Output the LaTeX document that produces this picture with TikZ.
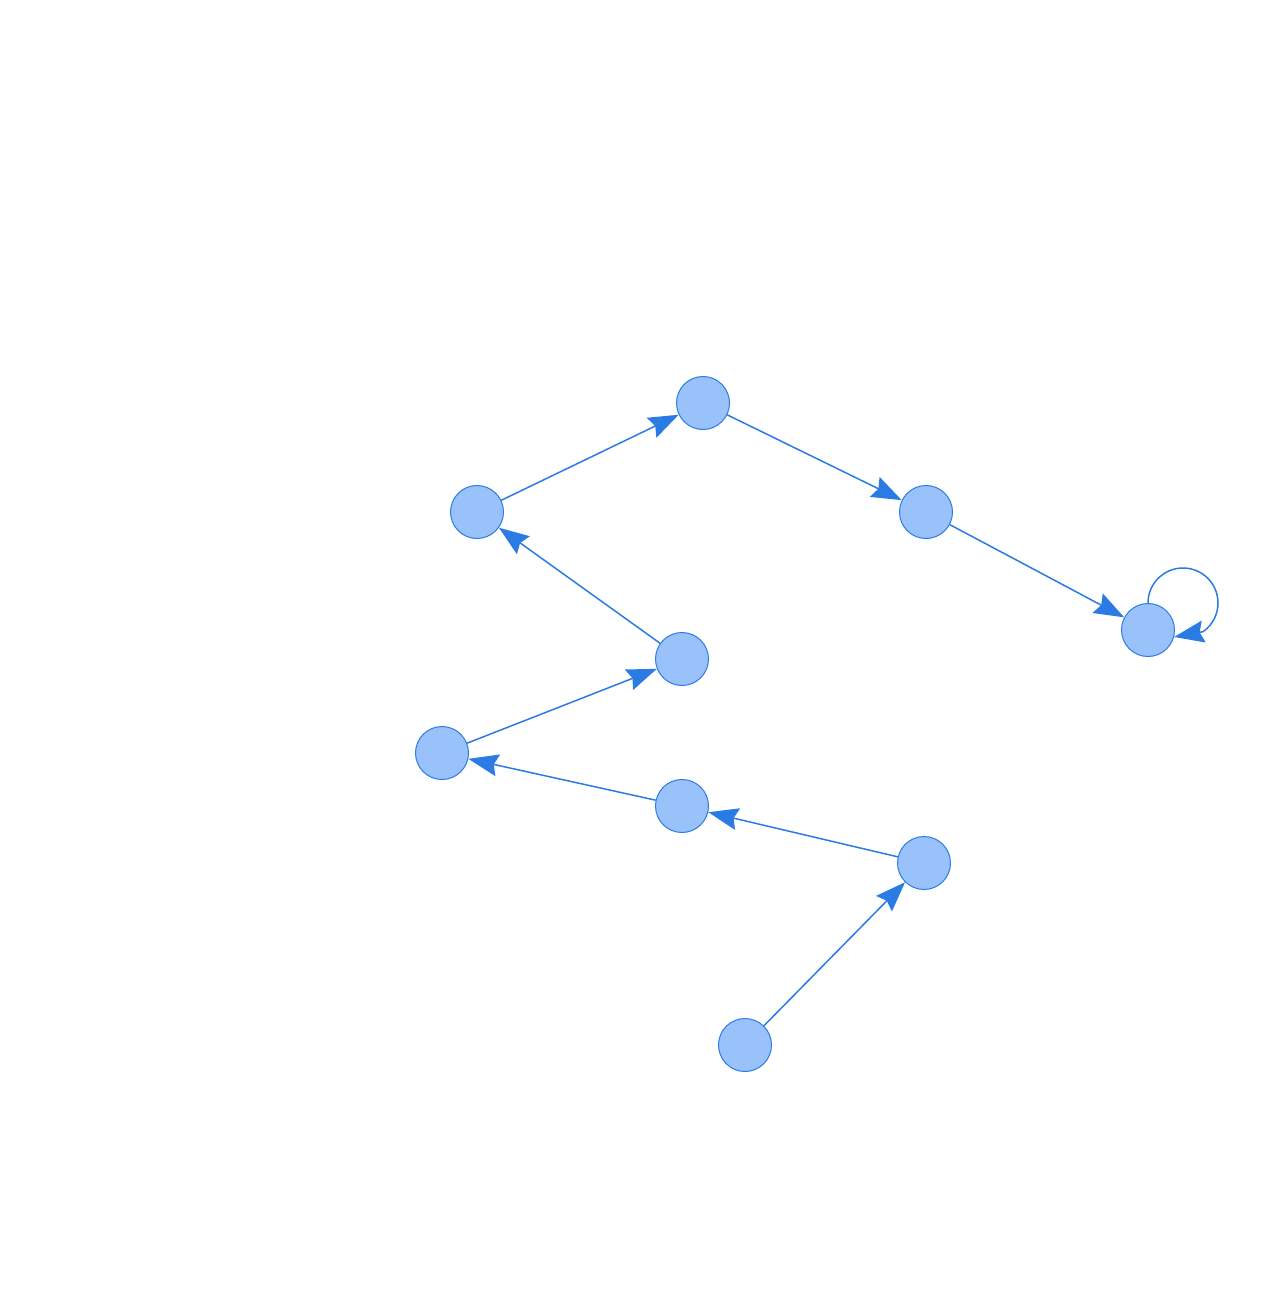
\documentclass[tikz,border=0pt]{standalone}
\usetikzlibrary{arrows.meta}
\definecolor{nodefill}{HTML}{99C2FA}
\definecolor{edgeblue}{HTML}{2B7BE4}
\begin{document}
\begin{tikzpicture}[x=1pt,y=1pt,
  vertex/.style={circle,draw=edgeblue,fill=nodefill,line width=1pt,minimum size=53pt,inner sep=0pt},
  link/.style={draw=edgeblue,line width=1.5pt,-{Stealth[length=30pt,width=22pt,inset=4pt]}}]
\useasboundingbox (0,0) rectangle (1272,-1305);
% vertices
\node[vertex] (a) at (745,-1045) {};
\node[vertex] (b) at (924,-863) {};
\node[vertex] (c) at (682,-806) {};
\node[vertex] (d) at (442,-753) {};
\node[vertex] (e) at (682,-659) {};
\node[vertex] (f) at (477,-512) {};
\node[vertex] (g) at (703,-403) {};
\node[vertex] (h) at (926,-512) {};
\node[vertex] (i) at (1148,-630) {};
% chain of directed edges
\path[link] (a) -- (b);
\path[link] (b) -- (c);
\path[link] (c) -- (d);
\path[link] (d) -- (e);
\path[link] (e) -- (f);
\path[link] (f) -- (g);
\path[link] (g) -- (h);
\path[link] (h) -- (i);
% self loop on the last vertex
\path[link] (i.north) arc[start angle=180, end angle=-55, radius=35pt] -- (i.-15);
\end{tikzpicture}
\end{document}
